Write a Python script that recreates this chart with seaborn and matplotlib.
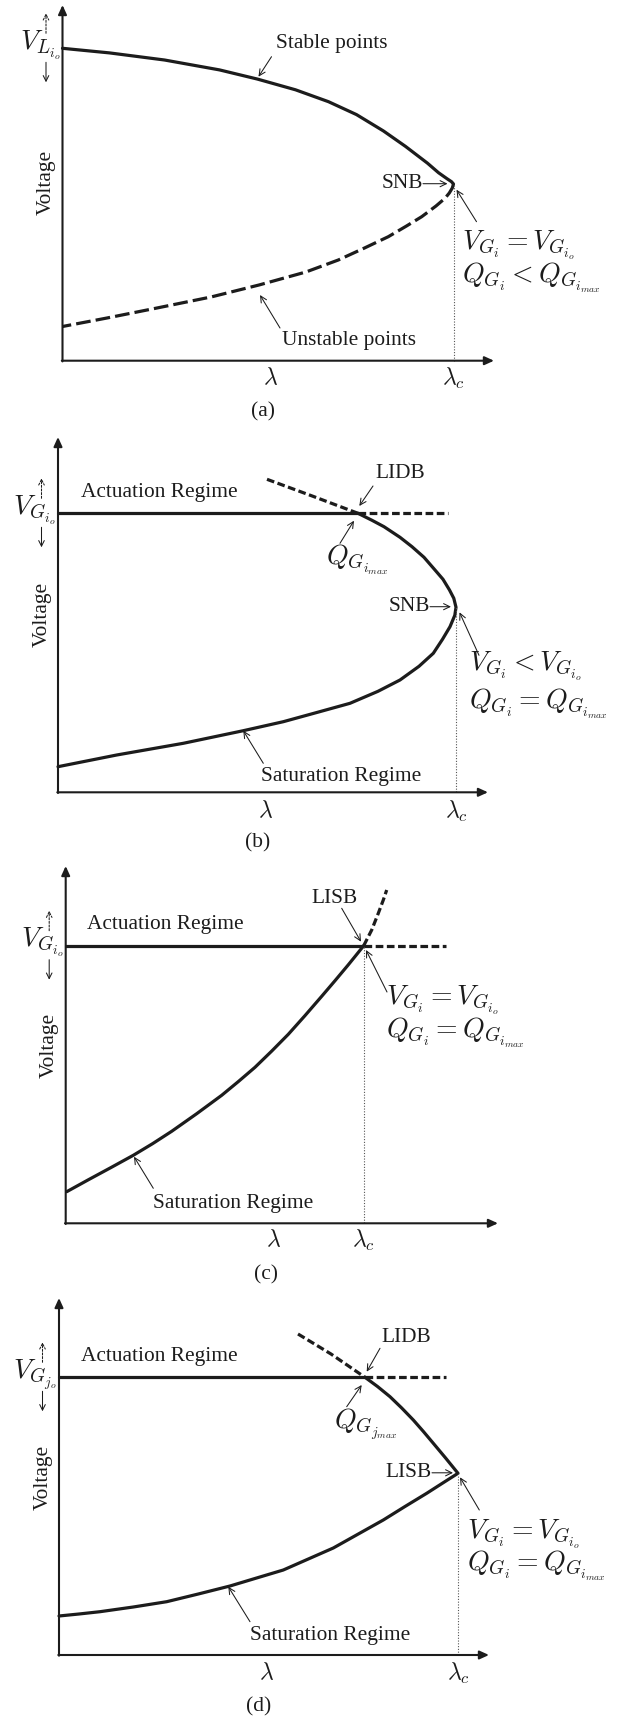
import matplotlib
matplotlib.use("Agg")
import matplotlib.pyplot as plt
import seaborn as sns

# ---------------- data (arbitrary units: lambda, voltage) ----------------
# panel (a)
a_lam_c = 391
a_V0 = 312.4
a_stable_lam = [0, 47, 102, 157, 195, 233, 266, 294, 321, 343, 365, 376, 384.5,
                389, 391]
a_stable_V = [312.4, 307.8, 300.7, 290.8, 281.6, 270.9, 259, 246.1, 229.7, 214.3,
              197.5, 188, 182, 179, 176.7]
a_unstable_lam = [391, 389.8, 386.8, 382.5, 373.5, 359.2, 344, 325.8, 302, 275.8,
                  243.4, 196.5, 148.5, 93, 44.5, 0]
a_unstable_V = [176.7, 172.7, 167.7, 162.4, 154.7, 144, 134.7, 124, 112.7, 100.7,
                88.7, 75.7, 63.7, 52.4, 42.7, 34.2]

# panel (b)
b_lam_c = 398
b_V0 = 279
b_act_lam = [0, 300]
b_ext_lam = [300, 390]
b_lidb_lam = [209, 255, 300]
b_lidb_V = [313, 296, 279]
b_curve_lam = [300, 314, 326, 342, 354, 366, 377, 385, 391.5, 395.8, 398,
               396.8, 392, 384.5, 375.3, 361, 342, 320, 292, 259.5, 225.3, 185.3,
               125.3, 58.7, 0]
b_curve_V = [279, 272, 265.6, 255, 245.6, 235, 222.3, 213, 202.3, 194, 185,
             177, 165.6, 153, 139, 126, 112.3, 101, 89, 80, 70.6, 61.6,
             49, 37.3, 25.6]

# panel (c)
c_lam_c = 298
c_V0 = 277.6
c_act_lam = [0, 298]
c_ext_lam = [298, 380]
c_lisb_lam = [298, 306, 312.6, 317.6, 321]
c_lisb_V = [277.6, 293.3, 310, 323.3, 333.3]
c_sat_lam = [1, 22.6, 45, 67.6, 87, 106, 131, 156, 172.6, 189.3, 206, 222.6, 239.3,
             256, 269.3, 282.6, 290.3, 298]
c_sat_V = [31.6, 43.5, 55.6, 68, 79.7, 92, 109.6, 128, 141.7, 156, 172.2, 189, 207.7,
           227, 242.6, 258.5, 268, 277.6]

# panel (d)
d_lam_c = 399
d_V0 = 277.7
d_act_lam = [0, 306]
d_ext_lam = [306, 387]
d_lidb_lam = [239, 272, 306]
d_lidb_V = [321, 301, 277.7]
d_curve_lam = [306, 318.5, 331, 342.7, 354.3, 364.3, 374.3, 386.6, 399,
               383.3, 367.7, 346, 324.3, 299.3, 274.3, 249.3, 224.3, 197.6, 171,
               139.3, 107.7, 74.3, 41, 20, 0]
d_curve_V = [277.7, 268.5, 258.3, 247, 235, 223.6, 211.7, 197, 181.7,
             171.7, 161.7, 148.5, 135, 121, 107, 96, 85, 77, 69,
             61, 53.3, 48, 43.3, 41, 39]

# ---------------- style ----------------
sns.set_style("white")
plt.rcParams["font.family"] = ["Liberation Serif", "DejaVu Serif"]
plt.rcParams["mathtext.fontset"] = "cm"

W, H = 641, 1718
fig = plt.figure(figsize=(W / 100, H / 100), dpi=100)

INK = "#1c1c1c"
LW = 2.3
TXT = 15.4
MTX = 20
LTX = 17
DASH_LONG = (0, (4.6, 1.6))
DASH_SHORT = (0, (2.4, 1.1))


def make_axes(top, bottom, x0, y0):
    ax = fig.add_axes([0, 1 - bottom / H, 1, (bottom - top) / H])
    ax.set_xlim(-x0, W - x0)
    ax.set_ylim(y0 - bottom, y0 - top)
    ax.axis("off")
    return ax


def axes_arrows(ax, vtop, ltip):
    ap = dict(arrowstyle="-|>,head_length=0.55,head_width=0.25", lw=1.5,
              color=INK, shrinkA=0, shrinkB=0)
    ax.annotate("", xy=(0, vtop), xytext=(0, -0.7), arrowprops=ap)
    ax.annotate("", xy=(ltip, 0), xytext=(-0.7, 0), arrowprops=ap)


def small_arrow(ax, tail, tip):
    ax.annotate("", xy=tip, xytext=tail,
                arrowprops=dict(arrowstyle="->,head_length=0.45,head_width=0.22",
                                lw=0.75, color=INK, shrinkA=0, shrinkB=0))


def v_label(ax, text, v0):
    ax.text(-2, v0 + 3, text, ha="right", va="center", fontsize=MTX, color=INK)
    ax.annotate("", xy=(-16.5, v0 + 35), xytext=(-16.5, v0 + 15),
                arrowprops=dict(arrowstyle="->,head_length=0.4,head_width=0.2",
                                lw=0.75, ls=(0, (2, 1.5)), color=INK,
                                shrinkA=0, shrinkB=0))
    ax.annotate("", xy=(-16.5, v0 - 34), xytext=(-16.5, v0 - 14),
                arrowprops=dict(arrowstyle="->,head_length=0.4,head_width=0.2",
                                lw=0.75, color=INK, shrinkA=0, shrinkB=0))


def common(ax, lam_c, v_c, lam_lab_y, cap_y, cap, ltip, vtop):
    axes_arrows(ax, vtop, ltip)
    ax.plot([lam_c, lam_c], [0, v_c], ls=(0, (1, 1.5)), lw=0.8, color="#555555")
    ax.text(-16, 178, "Voltage", rotation=90, ha="center", va="center",
            fontsize=TXT, color=INK)
    ax.text(208, lam_lab_y, r"$\lambda$", ha="center", va="center", fontsize=LTX, color=INK)
    ax.text(lam_c, lam_lab_y, r"$\lambda_c$", ha="center", va="center", fontsize=LTX, color=INK)
    ax.text(200, cap_y, cap, ha="center", va="center", fontsize=TXT, color=INK)


def line(ax, x, y, ls="-", lw=LW):
    sns.lineplot(x=x, y=y, sort=False, estimator=None, ax=ax, color=INK,
                 lw=lw, linestyle=ls, legend=False)


# ---------------- panel (a) ----------------
ax = make_axes(0, 430, 62.5, 360.7)
line(ax, a_stable_lam, a_stable_V)
line(ax, a_unstable_lam, a_unstable_V, ls=DASH_LONG)
common(ax, a_lam_c, 176.7, -17.3, -51.3, "(a)", 431.5, 355.7)
v_label(ax, r"$V_{L_{i_o}}$", a_V0)
ax.text(269.5, 317.4, "Stable points", ha="center", va="center", fontsize=TXT, color=INK)
small_arrow(ax, (209, 304), (196, 284))
ax.text(360.5, 177, "SNB", ha="right", va="center", fontsize=TXT, color=INK)
small_arrow(ax, (360.5, 177), (385, 177))
small_arrow(ax, (414, 139), (394, 171))
ax.text(399.5, 115.7, r"$V_{G_i} = V_{G_{i_o}}$", ha="left", va="center", fontsize=MTX, color=INK)
ax.text(399.5, 82.7, r"$Q_{G_i} < Q_{G_{i_{max}}}$", ha="left", va="center", fontsize=MTX, color=INK)
ax.text(286, 20.7, "Unstable points", ha="center", va="center", fontsize=TXT, color=INK)
small_arrow(ax, (217.5, 32.7), (197.5, 65.7))

# ---------------- panel (b) ----------------
ax = make_axes(430, 860, 58, 792.3)
line(ax, b_act_lam, [b_V0] * len(b_act_lam))
line(ax, b_ext_lam, [b_V0] * len(b_ext_lam), ls=DASH_SHORT)
line(ax, b_lidb_lam, b_lidb_V, ls=DASH_SHORT)
line(ax, b_curve_lam, b_curve_V)
common(ax, b_lam_c, 185, -19.4, -50.2, "(b)", 430, 355.3)
v_label(ax, r"$V_{G_{i_o}}$", b_V0)
ax.text(22.6, 299.3, "Actuation Regime", ha="left", va="center", fontsize=TXT, color=INK)
ax.text(342, 318.3, "LIDB", ha="center", va="center", fontsize=TXT, color=INK)
small_arrow(ax, (315, 306.3), (301.3, 286.3))
ax.text(299.5, 232.3, r"$Q_{G_{i_{max}}}$", ha="center", va="center", fontsize=MTX, color=INK)
small_arrow(ax, (282, 249), (296, 271.6))
ax.text(372, 185.6, "SNB", ha="right", va="center", fontsize=TXT, color=INK)
small_arrow(ax, (372, 185.6), (393, 185.6))
small_arrow(ax, (421, 137), (401.5, 180))
ax.text(411, 125.8, r"$V_{G_i} < V_{G_{i_o}}$", ha="left", va="center", fontsize=MTX, color=INK)
ax.text(411, 88.3, r"$Q_{G_i} = Q_{G_{i_{max}}}$", ha="left", va="center", fontsize=MTX, color=INK)
ax.text(283.5, 15.8, "Saturation Regime", ha="center", va="center", fontsize=TXT, color=INK)
small_arrow(ax, (205.3, 29), (185.3, 61.6))

# ---------------- panel (c) ----------------
ax = make_axes(860, 1290, 65.7, 1223.3)
line(ax, c_act_lam, [c_V0] * len(c_act_lam))
line(ax, c_ext_lam, [c_V0] * len(c_ext_lam), ls=DASH_SHORT)
line(ax, c_lisb_lam, c_lisb_V, ls=DASH_SHORT)
line(ax, c_sat_lam, c_sat_V)
common(ax, c_lam_c, c_V0, -17.2, -51.7, "(c)", 432.3, 357.3)
v_label(ax, r"$V_{G_{i_o}}$", c_V0)
ax.text(21.3, 298.8, "Actuation Regime", ha="left", va="center", fontsize=TXT, color=INK)
ax.text(268.3, 325, "LISB", ha="center", va="center", fontsize=TXT, color=INK)
small_arrow(ax, (276, 315), (295.3, 281.6))
small_arrow(ax, (321.3, 231.3), (300.3, 273.3))
ax.text(320.3, 223.3, r"$V_{G_i} = V_{G_{i_o}}$", ha="left", va="center", fontsize=MTX, color=INK)
ax.text(320.3, 190.3, r"$Q_{G_i} = Q_{G_{i_{max}}}$", ha="left", va="center", fontsize=MTX, color=INK)
ax.text(167.3, 20, "Saturation Regime", ha="center", va="center", fontsize=TXT, color=INK)
small_arrow(ax, (87.6, 35), (68.3, 66.6))

# ---------------- panel (d) ----------------
ax = make_axes(1290, 1718, 59, 1655)
line(ax, d_act_lam, [d_V0] * len(d_act_lam))
line(ax, d_ext_lam, [d_V0] * len(d_ext_lam), ls=DASH_SHORT)
line(ax, d_lidb_lam, d_lidb_V, ls=DASH_SHORT)
line(ax, d_curve_lam, d_curve_V)
common(ax, d_lam_c, 181.7, -18, -51.5, "(d)", 430, 357)
v_label(ax, r"$V_{G_{j_o}}$", d_V0)
ax.text(21.6, 298.3, "Actuation Regime", ha="left", va="center", fontsize=TXT, color=INK)
ax.text(347, 317.5, "LIDB", ha="center", va="center", fontsize=TXT, color=INK)
small_arrow(ax, (321, 306.7), (307.7, 283.3))
ax.text(307, 231, r"$Q_{G_{j_{max}}}$", ha="center", va="center", fontsize=MTX, color=INK)
small_arrow(ax, (287.7, 248.3), (302.7, 270))
ax.text(373, 182.7, "LISB", ha="right", va="center", fontsize=TXT, color=INK)
small_arrow(ax, (373, 182.2), (394, 182.2))
small_arrow(ax, (420.3, 145), (401, 177.7))
ax.text(408, 121, r"$V_{G_i} = V_{G_{i_o}}$", ha="left", va="center", fontsize=MTX, color=INK)
ax.text(408, 89, r"$Q_{G_i} = Q_{G_{i_{max}}}$", ha="left", va="center", fontsize=MTX, color=INK)
ax.text(271.5, 19.5, "Saturation Regime", ha="center", va="center", fontsize=TXT, color=INK)
small_arrow(ax, (191, 33.3), (169.3, 68.3))

fig.savefig("out.png", dpi=100, facecolor="white")
